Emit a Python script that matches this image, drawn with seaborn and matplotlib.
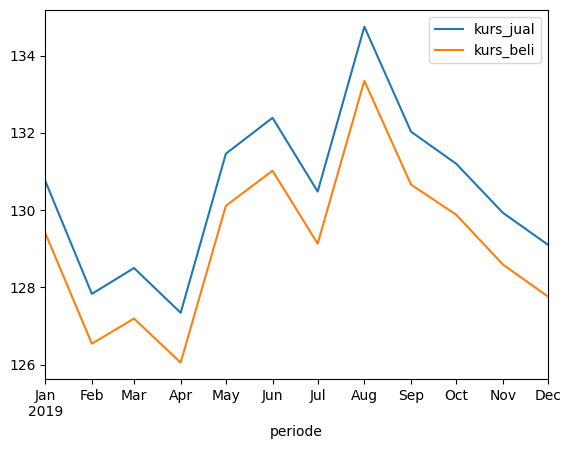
import pandas as pd
import matplotlib.pyplot as plt
import seaborn as sns

# monthly rates, 2019
bulan = ['Jan', 'Feb', 'Mar', 'Apr', 'May', 'Jun', 'Jul', 'Aug', 'Sep', 'Oct', 'Nov', 'Dec']
kurs_jual = [130.76, 127.83, 128.50, 127.34, 131.46, 132.39, 130.48, 134.75, 132.03, 131.20, 129.93, 129.10]
kurs_beli = [129.41, 126.54, 127.19, 126.05, 130.11, 131.02, 129.13, 133.35, 130.66, 129.88, 128.59, 127.76]

periode = pd.date_range('2019-01-01', periods=12, freq='MS')
df = pd.DataFrame({'periode': periode, 'kurs_jual': kurs_jual, 'kurs_beli': kurs_beli})
long = df.melt(id_vars='periode', var_name='kurs', value_name='nilai')

fig, ax = plt.subplots(figsize=(5.65, 4.49), dpi=100)
sns.lineplot(data=long, x='periode', y='nilai', hue='kurs', ax=ax,
             palette=['#1f77b4', '#ff7f0e'])

labels = [b if i else 'Jan\n2019' for i, b in enumerate(bulan)]
ax.set_xticks(periode)
ax.set_xticklabels(labels)
ax.set_xlim(periode[0], periode[-1])
ax.set_xlabel('periode')
ax.set_ylabel('')
ax.legend(title=None, loc='upper right')

plt.subplots_adjust(left=0.08, right=0.97, top=0.978, bottom=0.155)
plt.savefig('out.png', dpi=100)
